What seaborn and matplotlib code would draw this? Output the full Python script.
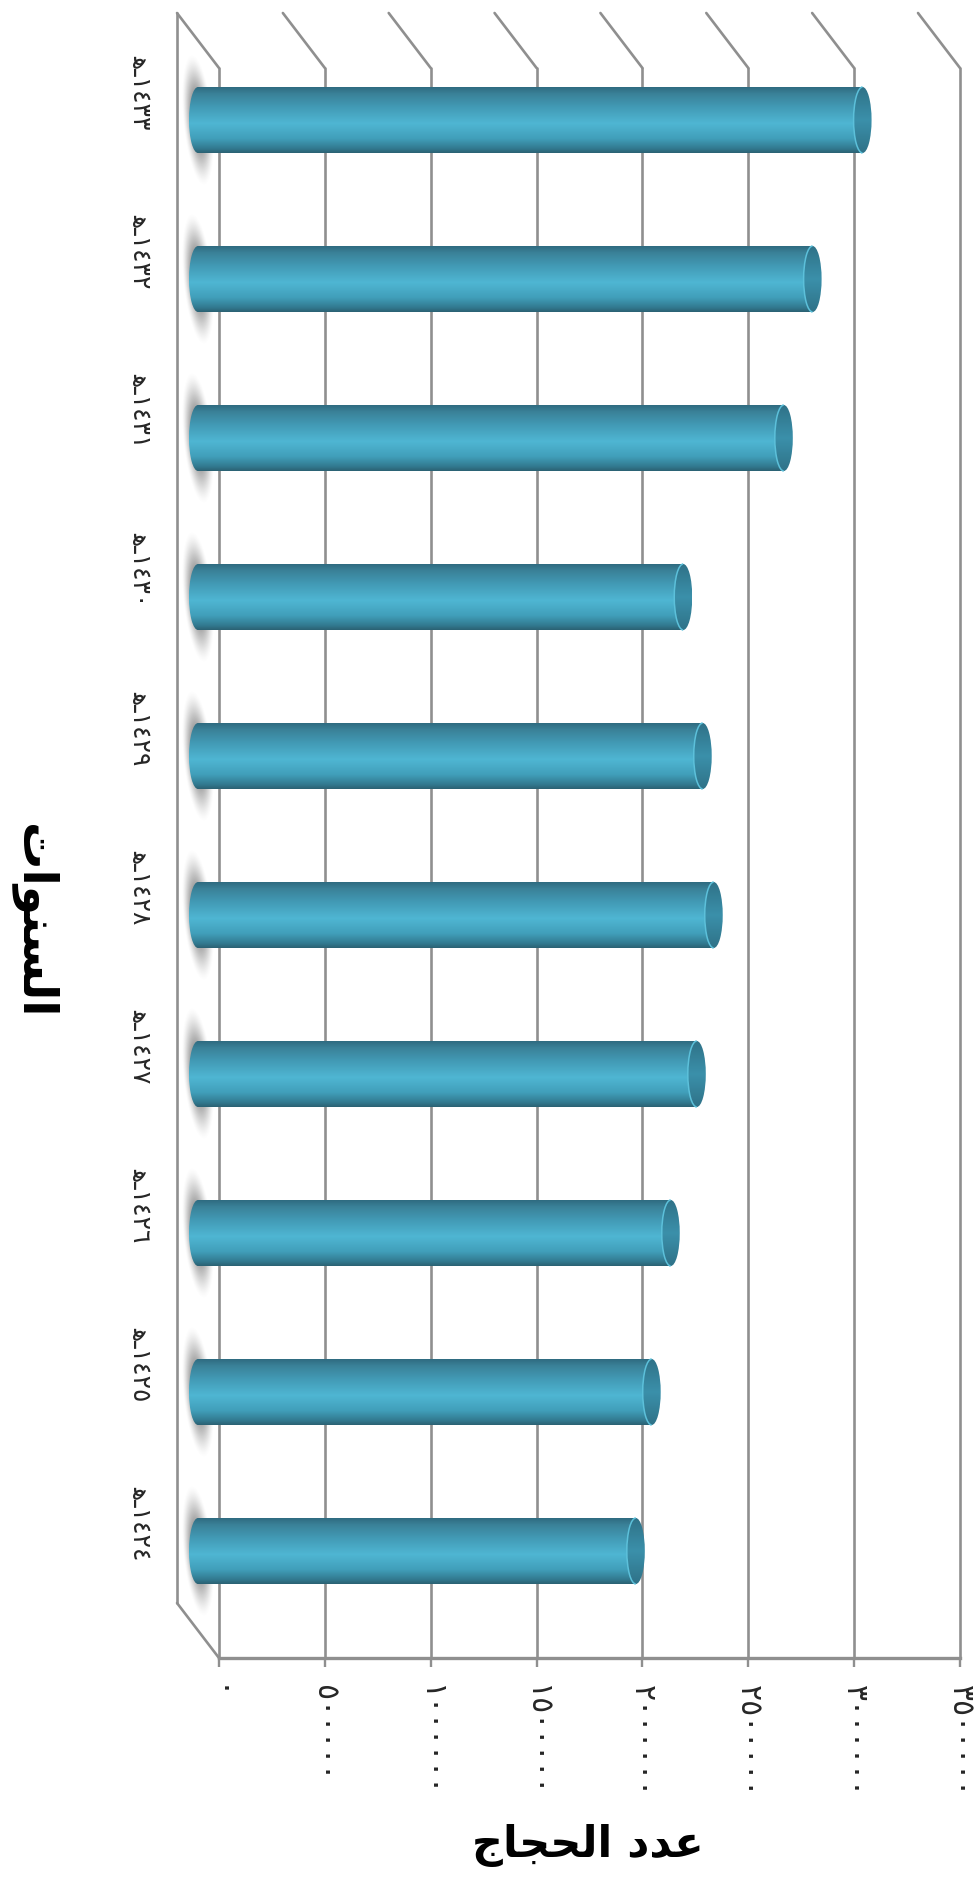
import numpy as np
import matplotlib
matplotlib.use("Agg")
import matplotlib.pyplot as plt
from matplotlib.patches import Ellipse, Arc
from matplotlib.colors import LinearSegmentedColormap
from matplotlib.transforms import ScaledTranslation
import seaborn as sns

years = ["\ufeeb\u0640\u0661\u0664\u0663\u0663", "\ufeeb\u0640\u0661\u0664\u0663\u0662",
         "\ufeeb\u0640\u0661\u0664\u0663\u0661", "\ufeeb\u0640\u0661\u0664\u0663\u0660",
         "\ufeeb\u0640\u0661\u0664\u0662\u0669", "\ufeeb\u0640\u0661\u0664\u0662\u0668",
         "\ufeeb\u0640\u0661\u0664\u0662\u0667", "\ufeeb\u0640\u0661\u0664\u0662\u0666",
         "\ufeeb\u0640\u0661\u0664\u0662\u0665", "\ufeeb\u0640\u0661\u0664\u0662\u0664"]
pilgrims = [3139000, 2903000, 2767000, 2292000, 2384000, 2436000, 2356000, 2233000, 2143000, 2068000]
ticks = [0, 500000, 1000000, 1500000, 2000000, 2500000, 3000000, 3500000]
tick_labels = ["\u0660", "\u0665\u0660\u0660\u0660\u0660\u0660", "\u0661\u0660\u0660\u0660\u0660\u0660\u0660",
               "\u0661\u0665\u0660\u0660\u0660\u0660\u0660", "\u0662\u0660\u0660\u0660\u0660\u0660\u0660",
               "\u0662\u0665\u0660\u0660\u0660\u0660\u0660", "\u0663\u0660\u0660\u0660\u0660\u0660\u0660",
               "\u0663\u0665\u0660\u0660\u0660\u0660\u0660"]
x_title = "\ufecb\ufeaa\ufea9 \ufe8d\ufedf\ufea4\ufea0\ufe8e\ufe9d"[::-1]
y_title = "\ufe8d\ufedf\ufeb4\ufee8\ufeee\ufe8d\ufe95"[::-1]

W, H = 975, 1901
sns.set_style("white")
plt.rcParams["font.family"] = ["DejaVu Sans"]
fig = plt.figure(figsize=(W / 100, H / 100), dpi=100)

GRID = "#8f8f8f"
L, R, T, B = 219, 960, 68, 1658     # back wall, pixels
DX, DY = 42, 55                     # depth of the 3D box, pixels
ax = fig.add_axes([L / W, 1 - B / H, (R - L) / W, (B - T) / H])
ax.set_xlim(0, 3500000)
ax.set_ylim(9.5, -0.5)
ax.set_xticks(ticks)
ax.set_xticklabels(tick_labels, rotation=-90, fontsize=21.5, va="top", ha="center")
ax.set_yticks(range(len(years)))
ax.set_yticklabels(years, rotation=-90, fontsize=18, va="center", ha="right")
ax.grid(axis="x", color=GRID, lw=1.9)
ax.grid(axis="y", visible=False)
for g in ax.get_xgridlines():
    g.set_clip_on(False)
for s in ("top", "right", "left"):
    ax.spines[s].set_visible(False)
ax.spines["bottom"].set_color(GRID)
ax.spines["bottom"].set_linewidth(2.4)
ax.tick_params(axis="x", length=6.5, width=1.7, color=GRID, pad=13, bottom=True)
ax.tick_params(axis="y", length=0, pad=48)
shift = ScaledTranslation(0, DY / 100, fig.dpi_scale_trans)
for lab in ax.get_yticklabels():
    lab.set_transform(lab.get_transform() + shift)
ax.set_xlabel(x_title, fontsize=31, fontweight="bold", color="black")
ax.xaxis.set_label_coords((588 - L) / (R - L), -(1845 - B) / (B - T))
ax.xaxis.label.set_va("center")
ax.set_ylabel(y_title, fontsize=34, fontweight="bold", color="black", rotation=-90)
ax.yaxis.set_label_coords((33 - L) / (R - L), 1 - (921 - T) / (B - T))
ax.yaxis.label.set_va("center")
ax.yaxis.label.set_ha("center")

# 3D box: depth lines drawn from the gridline positions
u = 3500000 / (R - L)
fy = 1 + DY / (B - T)
low = DY / (B - T)
ft = ax.get_xaxis_transform()
for t in ticks:
    ax.plot([t, t - DX * u], [1, fy], color=GRID, lw=1.9, transform=ft, clip_on=False, solid_capstyle="round")
ax.plot([-DX * u, -DX * u], [fy, low], color=GRID, lw=1.9, transform=ft, clip_on=False)
ax.plot([-DX * u, 0], [low, 0], color=GRID, lw=1.9, transform=ft, clip_on=False)

# Front axes: the middle plane of the box, where the cylinders sit
BAR0 = L - DX / 2
left_pad = 28
ov = fig.add_axes([(BAR0 - left_pad) / W, 1 - (B - DY / 2) / H,
                   (R - DX / 2 - BAR0 + left_pad) / W, (B - T) / H])
ov.patch.set_alpha(0)
sns.barplot(x=pilgrims, y=years, orient="h", ax=ov, width=0.415, color="#4db4d2", saturation=1, linewidth=0, zorder=2)
ov.set_xlim(-left_pad * u, 3500000)
ov.set_ylim(9.5, -0.5)
ov.axis("off")

body = LinearSegmentedColormap.from_list("body", [(0, "#2f6b80"), (0.1, "#3a8198"), (0.3, "#429ab5"),
                                                  (0.55, "#4fb6d3"), (0.78, "#419fba"), (0.93, "#327a90"), (1, "#2b6173")])
cap = LinearSegmentedColormap.from_list("cap", [(0, "#2f7288"), (0.5, "#3b90aa"), (1, "#2f7288")])
grad = np.linspace(0, 1, 256).reshape(-1, 1)
hw = 9 * u
px_row = (B - T) / 10
gx = np.linspace(-20, 20, 120)
gy = np.linspace(-70, 70, 280)
XX, YY = np.meshgrid(gx, gy)
rr = np.sqrt(((XX - YY * 6 / 66) / 15) ** 2 + (YY / 66) ** 2)
shade = np.zeros((280, 120, 4))
shade[..., :3] = 0.42
shade[..., 3] = 0.95 * np.cos(np.pi / 2 * np.clip(rr, 0, 1)) ** 1.5

for p in ov.patches[:]:
    y0, y1 = p.get_y(), p.get_y() + p.get_height()
    v = p.get_width()
    yc = (y0 + y1) / 2
    ov.imshow(shade, extent=(-20 * u, 20 * u, yc + 70 / px_row, yc - 70 / px_row), aspect="auto", zorder=1,
              interpolation="bilinear")
    im = ov.imshow(grad, extent=(0, v, y1, y0), cmap=body, aspect="auto", zorder=3)
    im.set_clip_path(p)
    left = Ellipse((0, yc), 2 * hw, y1 - y0, fc="none", ec="none", zorder=3)
    ov.add_patch(left)
    im = ov.imshow(grad, extent=(-hw, hw, y1, y0), cmap=body, aspect="auto", zorder=2.5)
    im.set_clip_path(left)
    right = Ellipse((v, yc), 2 * hw, y1 - y0, fc="none", ec="none", zorder=5)
    ov.add_patch(right)
    end = ov.imshow(grad, extent=(v - hw, v + hw, y1, y0), cmap=cap, aspect="auto", zorder=4)
    end.set_clip_path(right)
    ov.add_patch(Arc((v, yc), 2 * hw, y1 - y0, theta1=90, theta2=270, ec="#5cc0da", lw=1.1, zorder=6))
ov.set_xlim(-left_pad * u, 3500000)
ov.set_ylim(9.5, -0.5)

fig.savefig("out.png", dpi=100, facecolor="white")
